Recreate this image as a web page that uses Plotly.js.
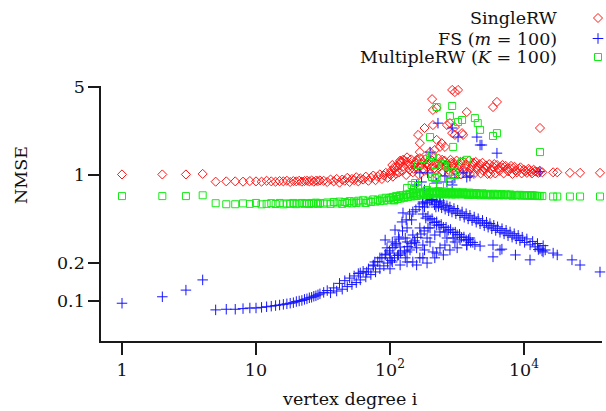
<!DOCTYPE html>
<html><head><meta charset="utf-8">
<script src="https://cdn.plot.ly/plotly-3.0.1.min.js"></script>
<style>html,body{margin:0;padding:0;background:#fff;} #chart{width:606px;height:411px;}</style>
</head><body><div id="chart"></div>
<script>
// ---- DATA ----
// shared degrees for SingleRW and MultipleRW main band
const bandDeg = [1,2,3,4,5,6,7,8,9,10,11,12,13,14,15,16,17,18,19,20,21,22,23,24,25,26,27,28,29,30,
32,34,36,38,40,42,44,46,48,50,52,54,56,58,60,
63,66,69,72,75,78,81,84,87,90,93,96,99,
102,105,108,111,114,117,120,
124,128,132,136,140,144,148,152,156,160,
165,170,175,180,185,190,195,200,
206,212,218,224,230,236,242,248,
255,262,269,276,283,290,
298,306,314,322,330,
340,350,360,370,380,390,400,
412,424,436,448,460,
475,490,505,520,535,
550,570,590,610,630,
655,680,705,730,
760,790,820,850,
885,920,960,1000,
1050,1100,1150,
1210,1280,1370,
1650,1770,2200,2620,3690];

const singleBand = [1.01,1.01,1.01,1.02,0.885,0.89,0.89,0.885,0.895,0.89,0.885,0.9,0.89,0.885,0.895,0.89,0.9,0.88,0.895,0.89,0.9,0.885,0.895,0.9,0.89,0.905,0.885,0.9,0.895,0.905,
0.9,0.88,0.92,0.89,0.93,0.87,0.92,0.9,0.95,0.88,0.93,0.91,0.96,0.89,0.94,
0.92,0.97,0.9,0.95,0.99,0.91,0.97,1.01,0.93,0.99,1.04,0.95,1.02,
1.08,0.97,1.12,1.02,1.18,1.05,1.25,
1.08,1.3,1.0,1.2,1.1,1.33,1.05,1.22,1.14,1.3,
1.0,1.18,1.27,1.08,1.34,1.15,1.22,1.03,
1.3,1.12,1.24,1.0,1.35,1.17,1.26,1.06,
1.3,1.14,1.22,1.02,1.32,1.17,
1.25,1.07,1.3,1.13,1.21,
1.01,1.28,1.15,1.22,1.05,1.3,1.12,
1.2,1.02,1.27,1.1,1.18,
1.03,1.25,1.12,1.19,1.02,
1.22,1.1,1.16,1.03,1.2,
1.08,1.15,1.03,1.18,
1.07,1.13,1.02,1.16,
1.05,1.12,1.03,1.1,
1.04,1.09,1.03,
1.07,1.04,1.05,
1.05,1.05,1.04,1.04,1.04];

const multipleBand = [0.68,0.68,0.68,0.69,0.597,0.586,0.586,0.595,0.59,0.6,0.585,0.59,0.598,0.588,0.6,0.585,0.595,0.59,0.6,0.587,0.595,0.6,0.59,0.598,0.588,0.6,0.592,0.603,0.59,0.6,
0.592,0.605,0.59,0.61,0.595,0.615,0.59,0.61,0.6,0.62,0.595,0.615,0.6,0.625,0.605,
0.63,0.6,0.625,0.61,0.64,0.615,0.635,0.62,0.65,0.625,0.66,0.63,0.655,
0.64,0.67,0.63,0.68,0.645,0.675,0.65,
0.69,0.66,0.7,0.67,0.71,0.675,0.72,0.68,0.71,0.69,
0.73,0.69,0.72,0.7,0.74,0.695,0.725,0.705,
0.74,0.7,0.73,0.71,0.745,0.7,0.725,0.705,
0.74,0.7,0.72,0.705,0.735,0.7,
0.72,0.7,0.735,0.705,0.72,
0.7,0.73,0.705,0.72,0.695,0.725,0.7,
0.715,0.695,0.72,0.7,0.71,
0.69,0.715,0.695,0.71,0.69,
0.705,0.69,0.71,0.69,0.7,
0.69,0.705,0.69,0.7,
0.69,0.7,0.685,0.695,
0.69,0.695,0.685,0.69,
0.69,0.685,0.69,
0.685,0.68,0.68,
0.675,0.675,0.675,0.675,0.675];

// extra degrees in the dense middle part of the two bands
const bandDeg2 = [101,107,113,119,126,134,142,150,158,167,177,187,197,209,221,233,245,258,272,286,302,318,335,355,375,395,418,442,468,495,525,560,600,640,690,745,800,870,940,1020,1080,1130,1180,1250,1310];
const singleBand2 = [1.0,1.15,1.08,1.3,1.17,1.38,1.2,1.12,1.25,1.36,1.12,1.22,1.3,1.18,1.1,1.22,1.32,1.2,1.1,1.25,1.15,1.04,1.27,1.1,1.18,1.02,1.25,1.15,1.22,1.08,1.15,1.02,1.22,1.13,1.2,1.12,1.18,1.09,1.15,1.07,1.12,1.06,1.1,1.06,1.08];
const multipleBand2 = [0.66,0.63,0.67,0.69,0.665,0.69,0.7,0.7,0.68,0.71,0.715,0.72,0.73,0.72,0.735,0.72,0.715,0.73,0.715,0.725,0.71,0.72,0.71,0.715,0.705,0.715,0.705,0.71,0.7,0.705,0.7,0.7,0.695,0.705,0.695,0.7,0.695,0.69,0.695,0.69,0.688,0.69,0.686,0.684,0.682];

const singleOutDeg = [291,305,322,470,485,628,587,206,209,374,162,167,181,209,266,280,305,291,305,351,223,243,257,236,216,167,199,1316,125,134,158,104,119,189,345,223];
const singleOutNmse = [4.73,4.55,4.73,5.18,5.09,3.80,3.46,4.0,3.28,3.16,2.08,1.79,2.36,2.49,2.49,2.58,2.40,2.15,2.08,2.08,1.90,1.79,1.67,1.67,1.58,1.52,1.52,2.36,1.32,1.27,1.32,1.20,1.27,1.25,2.15,3.40];

const multipleOutDeg = [223,291,280,322,345,430,452,470,587,628,199,1316,206,296,162,216,250,272,345,374,145,154,216,236,280,296,189,162,206,223,305,209,134,176,209,257];
const multipleOutNmse = [3.46,3.53,2.94,2.63,2.73,2.83,2.58,2.28,2.04,2.15,2.0,1.52,1.44,1.67,1.20,1.20,1.22,1.16,1.27,1.32,0.833,0.864,0.947,0.833,0.88,1.06,0.761,0.818,0.964,0.964,1.0,0.803,0.789,1.34,1.39,1.18];

// FS (m = 100)
const fsLowDeg = [1,2,3,4,5,6,7,8,9,10,11,12,13,14,15,16,17,18,19,20,21,22,23,24,25,26,27,28,29,30,32,34,36,38,40];
const fsLowNmse = [0.096,0.108,0.122,0.147,0.085,0.086,0.086,0.087,0.088,0.088,0.089,0.09,0.091,0.092,0.093,0.094,0.095,0.096,0.097,0.099,0.1,0.101,0.103,0.104,0.106,0.107,0.109,0.11,0.112,0.114,0.117,0.121,0.116,0.127,0.12];
const fsRiseDeg = [42,44,46,48,50,52,54,56,58,60,63,66,69,72,75,78,81,84,87,90,93,96,99,102,105,108,111,114,117,120,124,128,132,136,140,144,148,152,156,160,165,170,175,180,186,192,198,204];
const fsRiseNmse = [0.138,0.124,0.145,0.13,0.152,0.135,0.158,0.14,0.165,0.147,0.172,0.155,0.18,0.162,0.19,0.17,0.205,0.18,0.22,0.19,0.235,0.2,0.25,0.21,0.265,0.22,0.285,0.23,0.31,0.24,0.36,0.25,0.44,0.27,0.49,0.285,0.51,0.3,0.53,0.32,0.56,0.34,0.59,0.36,0.61,0.38,0.63,0.64];
const fsUpperDeg = [209,215,223,230,236,243,250,258,266,274,280,290,300,310,320,333,345,358,370,383,395,410,425,440,455,470,490,505,525,540,557,575,595,615,635,662,685,710,735,760,787,815,845,875,905,933,970,1010,1050,1110,1160,1210,1260,1316,1390,1440,1650,1770,2280,2620,3690];
const fsUpperNmse = [0.635,0.58,0.618,0.563,0.602,0.549,0.588,0.535,0.571,0.52,0.558,0.508,0.542,0.493,0.526,0.477,0.509,0.462,0.493,0.448,0.479,0.435,0.464,0.422,0.45,0.41,0.436,0.396,0.422,0.385,0.412,0.374,0.399,0.363,0.388,0.351,0.375,0.341,0.364,0.33,0.353,0.321,0.342,0.311,0.332,0.302,0.321,0.292,0.311,0.279,0.297,0.269,0.286,0.259,0.275,0.254,0.24,0.232,0.212,0.193,0.17];
const fsLowerDeg = [176,185,192,199,206,214,223,232,241,250,262,272,283,295,307,317,330,342,356,370,385,400,415,430,374,395,587,684,587,863,1109,662,470,1280,1363,1388];
const fsLowerNmse = [0.49,0.455,0.47,0.44,0.45,0.42,0.425,0.4,0.405,0.385,0.385,0.365,0.37,0.35,0.352,0.335,0.338,0.32,0.322,0.305,0.307,0.292,0.292,0.28,0.278,0.316,0.278,0.258,0.224,0.232,0.212,0.254,0.273,0.256,0.25,0.245];
const fsCloudDeg = [125,145,134,116,104,95,100,116,134,158,176,189,199,223,236,266,296,236,209,176,148,158,134,104,84,75,67,60,223,250,317,374,167,119,189,100,134,148,167,119,181,206,191,220,
92,109,130,141,154,181,199,216,257,280,77,92,109,123,257,305,333,216,130,100];
const fsCloudNmse = [0.50,0.44,0.38,0.322,0.294,0.264,0.24,0.232,0.245,0.264,0.278,0.316,0.38,0.40,0.353,0.316,0.316,0.264,0.245,0.22,0.204,0.193,0.204,0.204,0.22,0.193,0.17,0.167,0.24,0.232,0.264,0.278,0.22,0.193,0.20,0.22,0.294,0.334,0.38,0.268,0.557,0.633,0.60,0.557,
0.305,0.278,0.316,0.254,0.29,0.254,0.294,0.334,0.278,0.254,0.204,0.232,0.366,0.424,0.353,0.294,0.305,0.22,0.22,0.18];
const fsHighDeg = [228,291,322,445,470,485,628,199,167,191,266,291,351,374,1316,158,223,176,236,305,257,172,181,199,395];
const fsHighNmse = [2.58,2.36,2.0,2.0,1.73,1.73,1.49,1.52,1.04,1.04,0.88,0.833,1.04,0.96,1.06,0.833,0.864,0.61,0.622,0.947,0.982,0.88,0.761,0.694,0.98];

const xTickVals = [1,10,100,1000];
const xTickText = ['1','10','10<sup>2</sup>','10<sup>4</sup>'];
const yTickVals = [0.1,0.2,1,5];
const yTickText = ['0.1','0.2','1','5'];

const seriesNames = ['SingleRW','FS (<i>m</i> = 100)','MultipleRW (<i>K</i> = 100)'];
const RED='rgb(255,20,20)', BLUE='rgb(20,20,255)', GREEN='rgb(20,235,20)';

// ---- BUILD ----
const FONT = 'DejaVu Serif, serif';
const FS_ = 17.5;
const L=101, R=602, T=86, B=341;
const pxX = x => (x-L)/(R-L);
const pxY = y => (B-y)/(B-T);

const traces = [
  {x: bandDeg.concat(bandDeg2, singleOutDeg), y: singleBand.concat(singleBand2, singleOutNmse), name: seriesNames[0],
   type:'scatter', mode:'markers', cliponaxis:false,
   marker:{symbol:'diamond-open', size:7, color:RED, line:{width:1, color:RED}}},
  {x: fsLowDeg.concat(fsRiseDeg, fsUpperDeg, fsLowerDeg, fsCloudDeg, fsHighDeg),
   y: fsLowNmse.concat(fsRiseNmse, fsUpperNmse, fsLowerNmse, fsCloudNmse, fsHighNmse), name: seriesNames[1],
   type:'scatter', mode:'markers', cliponaxis:false,
   marker:{symbol:'cross-thin-open', size:7.5, color:BLUE, line:{width:1, color:BLUE}}},
  {x: bandDeg.concat(bandDeg2, multipleOutDeg), y: multipleBand.concat(multipleBand2, multipleOutNmse), name: seriesNames[2],
   type:'scatter', mode:'markers', cliponaxis:false,
   marker:{symbol:'square-open', size:7, color:GREEN, line:{width:1, color:GREEN}}}
];

// legend drawn on the right side (symbols to the right of the text)
const legRows = [18, 38.5, 57];
const symX = 598;
const shapes = [];
function seg(x0,y0,x1,y1,c){shapes.push({type:'line',xref:'paper',yref:'paper',x0:pxX(x0),y0:pxY(y0),x1:pxX(x1),y1:pxY(y1),line:{color:c,width:1}});}
(function(){const cy=legRows[0], r=4.5;
  shapes.push({type:'path',xref:'paper',yref:'paper',
   path:`M ${pxX(symX-r)} ${pxY(cy)} L ${pxX(symX)} ${pxY(cy-r)} L ${pxX(symX+r)} ${pxY(cy)} L ${pxX(symX)} ${pxY(cy+r)} Z`,
   line:{color:RED,width:1}});})();
seg(symX-5.3,legRows[1],symX+5.3,legRows[1],BLUE);
seg(symX,legRows[1]-5.3,symX,legRows[1]+5.3,BLUE);
shapes.push({type:'rect',xref:'paper',yref:'paper',x0:pxX(symX-3.5),x1:pxX(symX+3.5),y0:pxY(legRows[2]-3.5),y1:pxY(legRows[2]+3.5),line:{color:GREEN,width:1}});

const annotations = seriesNames.map((t,i)=>({text:t, xref:'paper', yref:'paper', x:pxX(559), y:pxY(legRows[i]),
  xanchor:'right', yanchor:'middle', showarrow:false, font:{family:FONT,size:FS_,color:'#111'}}));
annotations.push({text:'vertex degree i', xref:'paper', yref:'paper', x:pxX(350), y:pxY(399), xanchor:'center', yanchor:'middle', showarrow:false, font:{family:FONT,size:FS_,color:'#111'}});
annotations.push({text:'NMSE', xref:'paper', yref:'paper', x:pxX(21), y:pxY(175), xanchor:'center', yanchor:'middle', textangle:-90, showarrow:false, font:{family:FONT,size:FS_,color:'#111'}});

const axisCommon = {showgrid:false, zeroline:false, showline:true, linecolor:'#1a1a1a', linewidth:1.7,
  ticks:'outside', tickwidth:1.7, tickcolor:'#1a1a1a', tickfont:{family:FONT,size:FS_,color:'#111'}, mirror:false};

const layout = {
  width:606, height:411,
  margin:{l:L, r:606-R, t:T, b:411-B, pad:0},
  paper_bgcolor:'#fff', plot_bgcolor:'#fff', showlegend:false,
  font:{family:FONT, size:FS_, color:'#111'},
  xaxis:Object.assign({}, axisCommon, {type:'log', range:[-0.1567, 3.582], ticklen:12,
    tickmode:'array', tickvals:xTickVals, ticktext:xTickText}),
  yaxis:Object.assign({}, axisCommon, {type:'log', range:[-1.3175, 0.7063], ticklen:11,
    tickmode:'array', tickvals:yTickVals, ticktext:yTickText}),
  shapes: shapes, annotations: annotations
};

Plotly.newPlot('chart', traces, layout, {displayModeBar:false, staticPlot:true});
</script>
</body></html>
